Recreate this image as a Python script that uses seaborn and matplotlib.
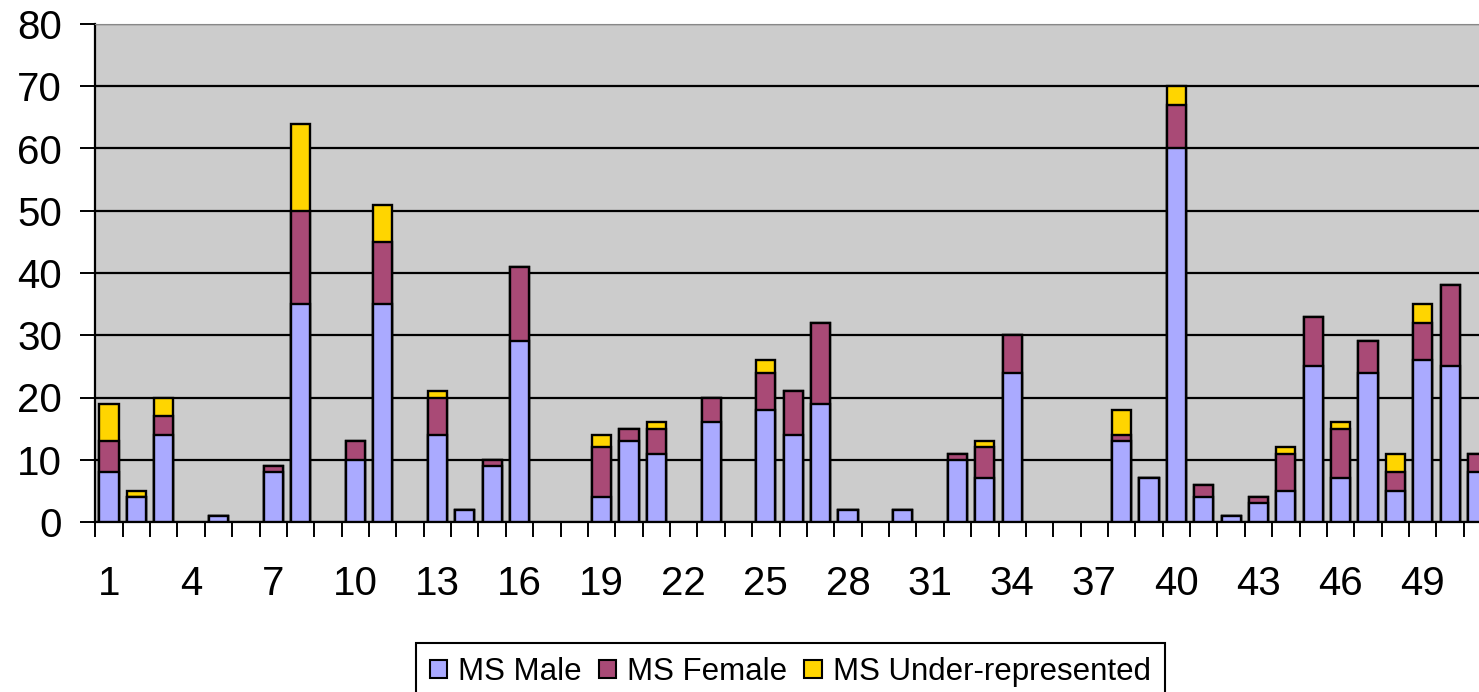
import numpy as np
import pandas as pd
import matplotlib
matplotlib.use("Agg")
import matplotlib.pyplot as plt
from matplotlib.patches import Patch
import seaborn as sns

# values, one entry per category 1..51
categories = [str(i) for i in range(1, 52)]
ms_male = [8, 4, 14, 0, 1, 0, 8, 35, 0, 10, 35, 0, 14, 2, 9, 29, 0, 0, 4, 13,
           11, 0, 16, 0, 18, 14, 19, 2, 0, 2, 0, 10, 7, 24, 0, 0, 0, 13, 7, 60,
           4, 1, 3, 5, 25, 7, 24, 5, 26, 25, 8]
ms_female = [5, 0, 3, 0, 0, 0, 1, 15, 0, 3, 10, 0, 6, 0, 1, 12, 0, 0, 8, 2,
             4, 0, 4, 0, 6, 7, 13, 0, 0, 0, 0, 1, 5, 6, 0, 0, 0, 1, 0, 7,
             2, 0, 1, 6, 8, 8, 5, 3, 6, 13, 3]
ms_under = [6, 1, 3, 0, 0, 0, 0, 14, 0, 0, 6, 0, 1, 0, 0, 0, 0, 0, 2, 0,
            1, 0, 0, 0, 2, 0, 0, 0, 0, 0, 0, 0, 1, 0, 0, 0, 0, 4, 0, 3,
            0, 0, 0, 1, 0, 1, 0, 3, 3, 0, 0]
series_names = ["MS Male", "MS Female", "MS Under-represented"]
y_ticks = list(range(0, 81, 10))

colors = ["#AAAAFF", "#A94A76", "#FFD500"]

df = pd.DataFrame({"cat": categories, "male": ms_male,
                   "female": ms_female, "under": ms_under})
df["lvl1"] = df["male"]
df["lvl2"] = df["male"] + df["female"]
df["lvl3"] = df["lvl2"] + df["under"]
# empty categories get no bar at all (no edge line on the axis)
for col in ["lvl1", "lvl2", "lvl3"]:
    df[col] = df[col].where(df[col] > 0)

sns.set_style("white", {"axes.facecolor": "#CCCCCC"})
plt.rcParams["font.family"] = ["Liberation Sans", "DejaVu Sans"]
plt.rcParams["text.color"] = "black"
plt.rcParams["xtick.color"] = "black"
plt.rcParams["ytick.color"] = "black"

W, H = 1479, 692
fig = plt.figure(figsize=(W / 100, H / 100), dpi=100)
left_px, right_px = 95.3, 95.3 + 51 * 27.37
ax = fig.add_axes([left_px / W, (H - 522) / H, (right_px - left_px) / W, (522 - 24) / H])

# stacked bars: draw cumulative totals back to front
for col, c in zip(["lvl3", "lvl2", "lvl1"], colors[::-1]):
    sns.barplot(data=df, x="cat", y=col, order=categories, color=c, saturation=1,
                width=0.7, edgecolor="black", linewidth=1.7, ax=ax, zorder=3)

ax.set_xlim(-0.5, 50.5)
ax.set_ylim(0, 80)
ax.set_yticks(y_ticks)
ax.set_yticklabels([str(v) for v in y_ticks], fontsize=29)
ax.yaxis.grid(True, color="black", linewidth=1.6, zorder=1)
ax.set_axisbelow(True)

major = list(range(0, 51, 3))
ax.set_xticks(major)
ax.set_xticklabels([categories[i] for i in major], fontsize=29)
ax.set_xticks(np.arange(-0.5, 51, 1), minor=True)
ax.tick_params(axis="x", which="major", length=0, pad=31, bottom=True)
ax.tick_params(axis="x", which="minor", length=11, width=1.4, color="black",
               direction="out", bottom=True)
ax.tick_params(axis="y", which="major", length=11, width=1.4, color="black",
               direction="out", pad=13, left=True)
ax.set_xlabel("")
ax.set_ylabel("")

for s in ["left", "bottom"]:
    ax.spines[s].set_color("black")
    ax.spines[s].set_linewidth(1.6)
ax.spines["top"].set_color("#888888")
ax.spines["right"].set_visible(False)

handles = [Patch(facecolor=c, edgecolor="black", linewidth=1.5) for c in colors]
leg = fig.legend(handles, series_names, loc="upper left",
                 bbox_to_anchor=(416 / W, 1 - 643 / H), ncol=3, fontsize=22.5,
                 frameon=True, fancybox=False, edgecolor="black", facecolor="white",
                 framealpha=1, handlelength=0.55, handleheight=0.55,
                 handletextpad=0.35, columnspacing=0.55, borderpad=0.45,
                 borderaxespad=0)
leg.get_frame().set_linewidth(1.5)

fig.savefig("out.png", dpi=100)
